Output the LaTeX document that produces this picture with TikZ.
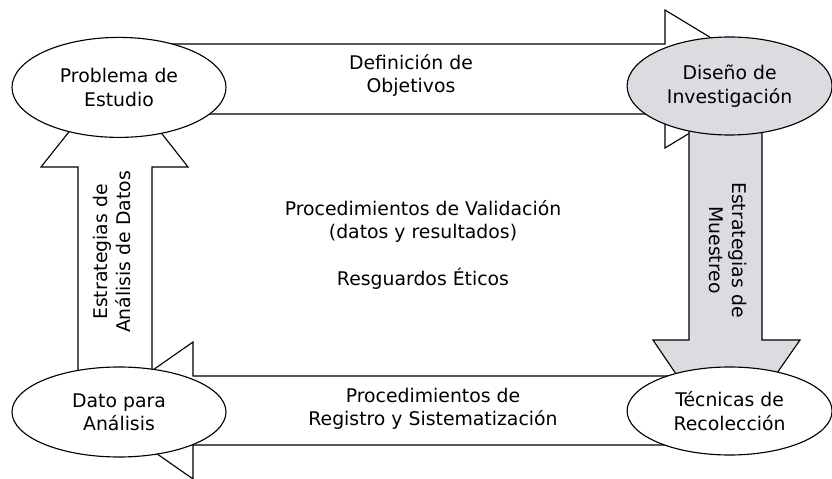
\documentclass[tikz,border=0pt]{standalone}
\usepackage{fontspec}
\setmainfont{DejaVu Sans}
\usepackage{xcolor}
\usepackage{tikz}
\usetikzlibrary{shapes,positioning,calc,backgrounds}

\definecolor{grisclaro}{HTML}{DCDCE0}

\begin{document}
\begin{tikzpicture}[
    etapa/.style={draw, ellipse, line width=0.8pt, fill=white, inner sep=0pt, align=center},
    flecha/.style={draw, line width=0.8pt, fill=white},
    texto/.style={align=center}
]
    \useasboundingbox (0,0) rectangle (20.8,11.975);
    \fontsize{13.4}{16.6}\selectfont
    % etapas
    \node [etapa, minimum width=5.35cm, minimum height=2.5cm] (prob) at (2.975,9.79) {Problema de\\Estudio};
    \node [etapa, fill=grisclaro, minimum width=5.125cm, minimum height=2.45cm] (dise) at (18.24,9.825) {Dise\~no de\\Investigaci\'on};
    \node [etapa, minimum width=5.125cm, minimum height=2.2cm] (tecn) at (18.24,1.7) {T\'ecnicas de\\Recolecci\'on};
    \node [etapa, minimum width=5.35cm, minimum height=2.25cm] (dato) at (2.975,1.675) {Dato para\\An\'alisis};

    % flechas
    \begin{scope}[on background layer]
    \draw [flecha] (prob.center |- 0,10.875) -- (16.625,10.875) -- (16.625,11.725) -- (19.475,10)
        -- (16.625,8.275) -- (16.625,9.125) -- (prob.center |- 0,9.125) -- cycle;
    \draw [flecha, fill=grisclaro] (17.225,0 |- dise.center) -- (17.225,3.475) -- (16.325,3.475) -- (18.1375,0.8)
        -- (20,3.475) -- (19.05,3.475) -- (19.05,0 |- dise.center) -- cycle;
    \draw [flecha] (tecn.center |- 0,2.575) -- (4.825,2.575) -- (4.825,3.425) -- (2.375,1.7125)
        -- (4.825,0) -- (4.825,0.85) -- (tecn.center |- 0,0.85) -- cycle;
    \draw [flecha] (1.95,0 |- dato.center) -- (1.95,7.8) -- (1.025,7.8) -- (2.875,10.125)
        -- (4.7,7.8) -- (3.8,7.8) -- (3.8,0 |- dato.center) -- cycle;
    \end{scope}

    % rotulos
    \node [texto] (obj) at (10.275,10.09) {Definici\'on de\\Objetivos};
    \node [texto] (val) at (10.575,5.85) {Procedimientos de Validaci\'on\\(datos y resultados)\\[0.6cm]Resguardos \'Eticos};
    \node [texto] (reg) at (10.825,1.76) {Procedimientos de\\Registro y Sistematizaci\'on};
    \node [texto, rotate=90] (ana) at (2.8,5.675) {Estrategias de\\An\'alisis de Datos};
    \node [texto, rotate=-90] (mue) at (18.2,5.725) {Estrategias de\\Muestreo};
\end{tikzpicture}
\end{document}
